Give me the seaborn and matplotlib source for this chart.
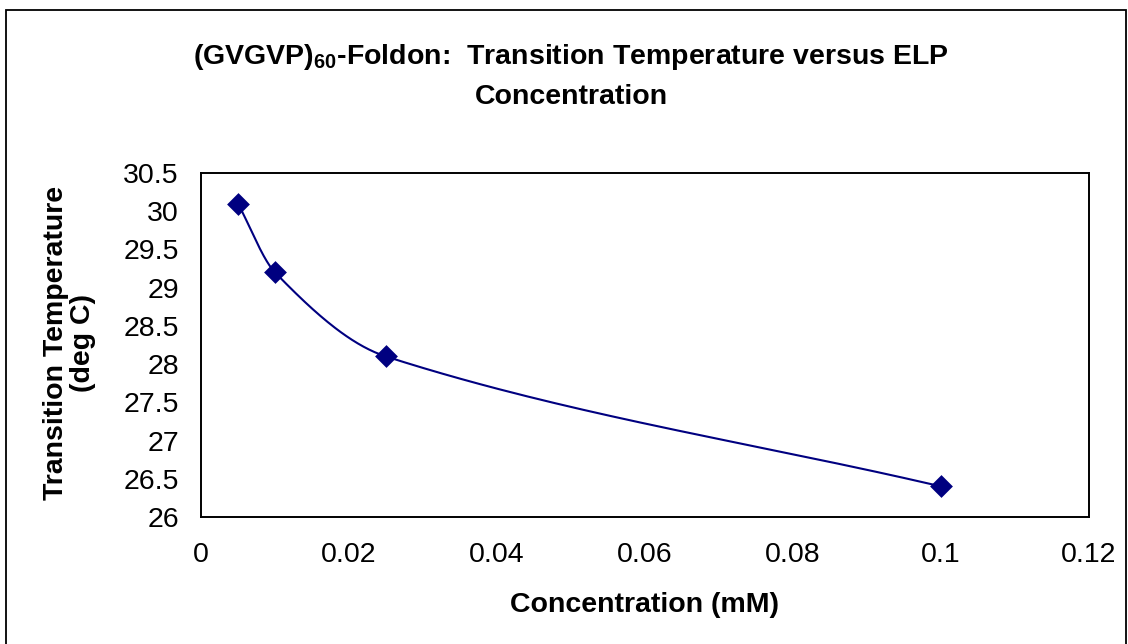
import numpy as np
import pandas as pd
import matplotlib
matplotlib.use("Agg")
import matplotlib.pyplot as plt
from matplotlib.patches import Rectangle
from matplotlib.ticker import FixedLocator, FixedFormatter
import seaborn as sns

# Measured transition temperatures
concentration_mM = [0.005, 0.01, 0.025, 0.1]
transition_temp_C = [30.1, 29.2, 28.1, 26.4]

x_ticks = [0, 0.02, 0.04, 0.06, 0.08, 0.10, 0.12]
x_tick_labels = ["0", "0.02", "0.04", "0.06", "0.08", "0.1", "0.12"]
y_ticks = [26, 26.5, 27, 27.5, 28, 28.5, 29, 29.5, 30, 30.5]
y_tick_labels = ["26", "26.5", "27", "27.5", "28", "28.5", "29", "29.5", "30", "30.5"]

title_text = "(GVGVP)$_{\\mathbf{60}}$-Foldon:  Transition Temperature versus ELP\nConcentration"
x_label = "Concentration (mM)"
y_label = "Transition Temperature\n(deg C)"

NAVY = "#000080"


def smoothed_path(xs, ys, steps=60):
    """Cubic Hermite curve through the points (smoothed-line look).

    Inner tangents follow the neighbouring points; end tangents follow the
    end chords.
    """
    x = np.asarray(xs, dtype=float)
    y = np.asarray(ys, dtype=float)
    n = len(x)
    m = np.empty(n)
    m[0] = (y[1] - y[0]) / (x[1] - x[0])
    m[-1] = (y[-1] - y[-2]) / (x[-1] - x[-2])
    for i in range(1, n - 1):
        m[i] = (y[i + 1] - y[i - 1]) / (x[i + 1] - x[i - 1])
    px, py = [], []
    for i in range(n - 1):
        h = x[i + 1] - x[i]
        t = np.linspace(0, 1, steps)
        if i > 0:
            t = t[1:]
        h00 = 2 * t**3 - 3 * t**2 + 1
        h10 = t**3 - 2 * t**2 + t
        h01 = -2 * t**3 + 3 * t**2
        h11 = t**3 - t**2
        px.append(x[i] + h * t)
        py.append(h00 * y[i] + h10 * h * m[i] + h01 * y[i + 1] + h11 * h * m[i + 1])
    return np.concatenate(px), np.concatenate(py)


sns.set_theme(style="white")
plt.rcParams["font.family"] = ["Liberation Sans", "DejaVu Sans"]
plt.rcParams["mathtext.fontset"] = "custom"
plt.rcParams["mathtext.rm"] = "Liberation Sans"
plt.rcParams["mathtext.bf"] = "Liberation Sans:bold"

fig = plt.figure(figsize=(11.28, 6.44), dpi=100)
fig.patch.set_facecolor("white")
ax = fig.add_axes([201 / 1128, 1 - 517 / 644, 888 / 1128, 344 / 644])

df = pd.DataFrame({"conc": concentration_mM, "temp": transition_temp_C})
sx, sy = smoothed_path(df["conc"].values, df["temp"].values)
curve = pd.DataFrame({"conc": sx, "temp": sy})

sns.lineplot(data=curve, x="conc", y="temp", sort=False, color=NAVY,
             linewidth=1.5, ax=ax, zorder=2)
sns.scatterplot(data=df, x="conc", y="temp", marker="D", s=135, color=NAVY,
                edgecolor=NAVY, linewidth=0, ax=ax, zorder=3)

ax.set_xlim(0, 0.12)
ax.set_ylim(26, 30.5)
ax.xaxis.set_major_locator(FixedLocator(x_ticks))
ax.xaxis.set_major_formatter(FixedFormatter(x_tick_labels))
ax.yaxis.set_major_locator(FixedLocator(y_ticks))
ax.yaxis.set_major_formatter(FixedFormatter(y_tick_labels))
ax.tick_params(axis="both", which="major", direction="out", length=6,
               width=1.2, color="#404040", labelsize=20.5, labelcolor="black")
ax.tick_params(axis="x", pad=12)
ax.tick_params(axis="y", pad=10)
ax.grid(False)
for s in ax.spines.values():
    s.set_visible(True)
    s.set_color("black")
    s.set_linewidth(1.4)

ax.set_xlabel(x_label, fontsize=20.5, fontweight="bold", color="black", va="center")
ax.xaxis.set_label_coords(0.5, -(605 - 517) / 344)
ax.set_ylabel(y_label, fontsize=20.5, fontweight="bold", color="black",
              va="center", ha="center", linespacing=1.05)
ax.yaxis.set_label_coords((70 - 201) / 888, 0.5 + (345 - 343) / 344)

fig.text(571 / 1128, 1 - 76 / 644, title_text, ha="center", va="center",
         fontsize=20.5, fontweight="bold", color="black", linespacing=1.55)

# Chart-area frame
fig.patches.append(Rectangle((6 / 1128, -0.1), 1120 / 1128, 1.1 - 10 / 644,
                             transform=fig.transFigure, fill=False,
                             edgecolor="black", linewidth=1.3, zorder=0))

fig.savefig("out.png", dpi=100, facecolor="white")
